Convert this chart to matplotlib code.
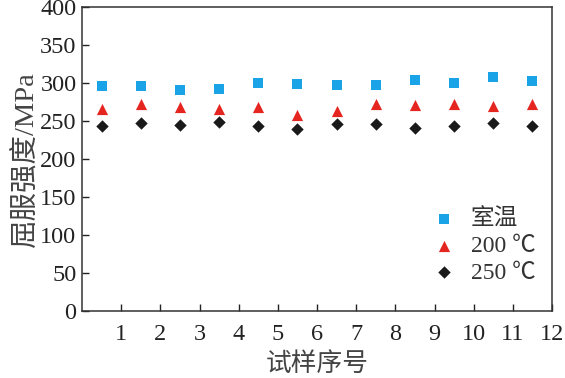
import matplotlib
matplotlib.use("Agg")
import matplotlib.pyplot as plt
import numpy as np

samples = [0.5, 1.5, 2.5, 3.5, 4.5, 5.5, 6.5, 7.5, 8.5, 9.5, 10.5, 11.5]
room_temp = [296.5, 296.5, 291, 292, 300, 299, 297, 297, 304, 300, 308, 303]
temp_200 = [266, 272, 269, 266, 269, 258, 263.5, 272, 271, 273, 270, 272]
temp_250 = [244, 247, 245, 249, 243, 239, 246, 246.5, 241, 243.5, 247, 244]
x_ticks = list(range(1, 13))
y_ticks = list(range(0, 401, 50))
series_labels = ["室温", "200 ℃", "250 ℃"]

fams = ["Liberation Serif", "Noto Sans CJK SC", "DejaVu Sans"]
plt.rcParams['font.family'] = fams

fig = plt.figure(figsize=(5.65, 3.78), dpi=100)
ax = fig.add_axes([82/565, 1-311/378, (552-82)/565, (311-7)/378])

ax.scatter(samples, room_temp, marker='s', s=50, color='#1aa3e6', label=series_labels[0], linewidths=0)
ax.scatter(samples, temp_200, marker='^', s=65, color='#e52620', label=series_labels[1], linewidths=0)
ax.scatter(samples, temp_250, marker='D', s=40, color='#1a1a1a', label=series_labels[2], linewidths=0)

ax.set_xlim(0, 12)
ax.set_ylim(0, 400)
ax.set_xticks(x_ticks)
ax.set_yticks(y_ticks)
ax.tick_params(direction='in', length=5, width=1, labelsize=17.5, colors='#222222', pad=4)
ax.tick_params(axis='x', pad=9)
for s in ax.spines.values():
    s.set_linewidth(1.1)
    s.set_color('#333333')

ax.set_xlabel("试样序号", fontsize=18.5, family=["Noto Sans CJK SC"], color='#444444',
              labelpad=5, fontweight='light')
ax.set_ylabel("屈服强度/MPa", fontsize=20.5, color='#444444', labelpad=0)

leg = ax.legend(loc='lower right', frameon=False, fontsize=17, bbox_to_anchor=(1.01, 0.02),
                handletextpad=0.55, labelspacing=0.22, handlelength=1.2)
for t in leg.get_texts():
    t.set_color('#333333')

fig.savefig("out.png", dpi=100, facecolor='white')
